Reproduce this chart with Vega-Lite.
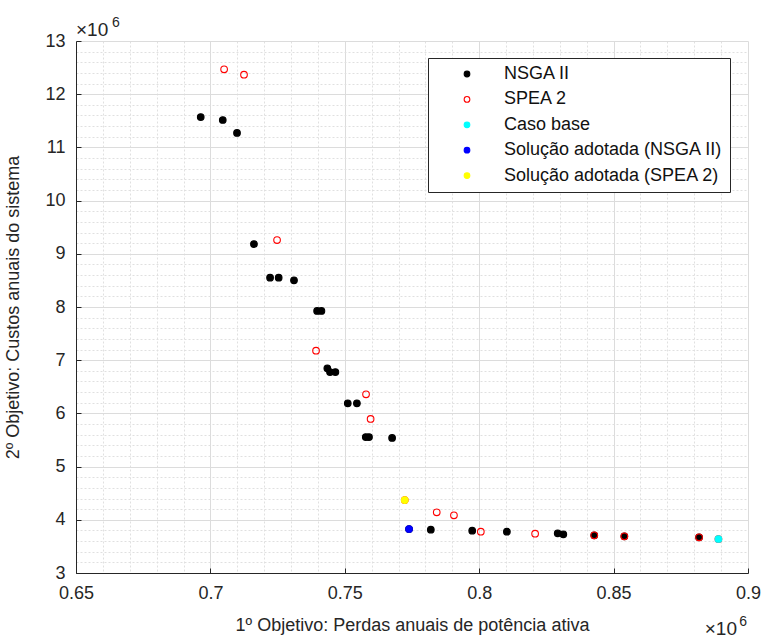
{
  "$schema": "https://vega.github.io/schema/vega-lite/v6.json",
  "width": 672,
  "height": 532,
  "autosize": {"type": "none"},
  "padding": {"left": 76, "top": 41, "right": 17, "bottom": 65},
  "background": "white",
  "config": {
    "view": {"stroke": null},
    "font": "Liberation Sans",
    "axis": {
      "domainColor": "#262626",
      "domainWidth": 1,
      "tickColor": "#262626",
      "labelColor": "#262626",
      "labelFont": "Liberation Sans",
      "labelFontSize": 18,
      "titleFont": "Liberation Sans",
      "titleFontSize": 18,
      "titleFontWeight": "normal",
      "titleColor": "#262626",
      "labelOverlap": false,
      "labelFlush": false
    },
    "legend": {
      "orient": "none",
      "legendX": 352,
      "legendY": 17,
      "strokeColor": "#262626",
      "fillColor": "white",
      "padding": 7,
      "labelFont": "Liberation Sans",
      "labelFontSize": 18,
      "labelColor": "#111111",
      "labelLimit": 0,
      "symbolSize": 32,
      "symbolStrokeWidth": 1.1,
      "symbolType": "circle",
      "rowPadding": 7.4,
      "symbolOffset": 23,
      "labelOffset": 28
    }
  },
  "resolve": {"axis": {"x": "independent", "y": "independent"}},
  "layer": [
    {
      "data": {
        "values": [
          {"perdas": 0.6964, "custos": 11.571, "serie": "NSGA II"},
          {"perdas": 0.7046, "custos": 11.515, "serie": "NSGA II"},
          {"perdas": 0.7099, "custos": 11.271, "serie": "NSGA II"},
          {"perdas": 0.7162, "custos": 9.184, "serie": "NSGA II"},
          {"perdas": 0.7222, "custos": 8.551, "serie": "NSGA II"},
          {"perdas": 0.7254, "custos": 8.551, "serie": "NSGA II"},
          {"perdas": 0.7311, "custos": 8.502, "serie": "NSGA II"},
          {"perdas": 0.7397, "custos": 7.925, "serie": "NSGA II"},
          {"perdas": 0.7413, "custos": 7.925, "serie": "NSGA II"},
          {"perdas": 0.7435, "custos": 6.848, "serie": "NSGA II"},
          {"perdas": 0.7445, "custos": 6.778, "serie": "NSGA II"},
          {"perdas": 0.7465, "custos": 6.778, "serie": "NSGA II"},
          {"perdas": 0.7511, "custos": 6.19, "serie": "NSGA II"},
          {"perdas": 0.7545, "custos": 6.19, "serie": "NSGA II"},
          {"perdas": 0.7578, "custos": 5.556, "serie": "NSGA II"},
          {"perdas": 0.759, "custos": 5.556, "serie": "NSGA II"},
          {"perdas": 0.7676, "custos": 5.538, "serie": "NSGA II"},
          {"perdas": 0.7739, "custos": 3.827, "serie": "NSGA II"},
          {"perdas": 0.782, "custos": 3.814, "serie": "NSGA II"},
          {"perdas": 0.7974, "custos": 3.795, "serie": "NSGA II"},
          {"perdas": 0.8103, "custos": 3.776, "serie": "NSGA II"},
          {"perdas": 0.8292, "custos": 3.746, "serie": "NSGA II"},
          {"perdas": 0.8313, "custos": 3.727, "serie": "NSGA II"},
          {"perdas": 0.8428, "custos": 3.709, "serie": "NSGA II"},
          {"perdas": 0.854, "custos": 3.69, "serie": "NSGA II"},
          {"perdas": 0.8818, "custos": 3.671, "serie": "NSGA II"},
          {"perdas": 0.7051, "custos": 12.468, "serie": "SPEA 2"},
          {"perdas": 0.7125, "custos": 12.367, "serie": "SPEA 2"},
          {"perdas": 0.7248, "custos": 9.259, "serie": "SPEA 2"},
          {"perdas": 0.7393, "custos": 7.179, "serie": "SPEA 2"},
          {"perdas": 0.7579, "custos": 6.359, "serie": "SPEA 2"},
          {"perdas": 0.7596, "custos": 5.895, "serie": "SPEA 2"},
          {"perdas": 0.7723, "custos": 4.372, "serie": "SPEA 2"},
          {"perdas": 0.7842, "custos": 4.141, "serie": "SPEA 2"},
          {"perdas": 0.7906, "custos": 4.085, "serie": "SPEA 2"},
          {"perdas": 0.8006, "custos": 3.776, "serie": "SPEA 2"},
          {"perdas": 0.8208, "custos": 3.739, "serie": "SPEA 2"},
          {"perdas": 0.8428, "custos": 3.709, "serie": "SPEA 2"},
          {"perdas": 0.854, "custos": 3.69, "serie": "SPEA 2"},
          {"perdas": 0.8818, "custos": 3.671, "serie": "SPEA 2"},
          {"perdas": 0.889, "custos": 3.639, "serie": "SPEA 2"},
          {"perdas": 0.889, "custos": 3.639, "serie": "Caso base"},
          {"perdas": 0.7739, "custos": 3.827, "serie": "Solução adotada (NSGA II)"},
          {"perdas": 0.7723, "custos": 4.372, "serie": "Solução adotada (SPEA 2)"}
        ]
      },
      "mark": {"type": "point", "filled": false, "size": 44, "strokeWidth": 1.1, "opacity": 1},
      "encoding": {
        "x": {
          "field": "perdas",
          "type": "quantitative",
          "scale": {"domain": [0.65, 0.9], "nice": false, "zero": false},
          "axis": {
            "orient": "bottom",
            "title": "1º Objetivo: Perdas anuais de potência ativa",
            "values": [0.65, 0.66, 0.67, 0.68, 0.69, 0.7, 0.71, 0.72, 0.73, 0.74, 0.75, 0.76, 0.77, 0.78, 0.79, 0.8, 0.81, 0.82, 0.83, 0.84, 0.85, 0.86, 0.87, 0.88, 0.89, 0.9],
            "labelExpr": "abs(datum.value*20 - round(datum.value*20)) < 0.001 ? format(datum.value, '~g') : ''",
            "grid": true,
            "gridDash": {"condition": {"test": "abs(datum.value*20 - round(datum.value*20)) < 0.001", "value": []}, "value": [2, 2]},
            "gridColor": {"condition": {"test": "abs(datum.value*20 - round(datum.value*20)) < 0.001", "value": "#dcdcdc"}, "value": "#e0e0e0"},
            "tickOpacity": {"condition": {"test": "abs(datum.value*20 - round(datum.value*20)) < 0.001", "value": 1}, "value": 0},
            "tickSize": -5,
            "labelPadding": 16,
            "titlePadding": 14
          }
        },
        "y": {
          "field": "custos",
          "type": "quantitative",
          "scale": {"domain": [3, 13], "nice": false, "zero": false},
          "axis": {
            "orient": "left",
            "title": "2º Objetivo: Custos anuais do sistema",
            "values": [3, 3.2, 3.4, 3.6, 3.8, 4, 4.2, 4.4, 4.6, 4.8, 5, 5.2, 5.4, 5.6, 5.8, 6, 6.2, 6.4, 6.6, 6.8, 7, 7.2, 7.4, 7.6, 7.8, 8, 8.2, 8.4, 8.6, 8.8, 9, 9.2, 9.4, 9.6, 9.8, 10, 10.2, 10.4, 10.6, 10.8, 11, 11.2, 11.4, 11.6, 11.8, 12, 12.2, 12.4, 12.6, 12.8, 13],
            "labelExpr": "abs(datum.value - round(datum.value)) < 0.001 ? format(datum.value, 'd') : ''",
            "grid": true,
            "gridDash": {"condition": {"test": "abs(datum.value - round(datum.value)) < 0.001", "value": []}, "value": [2, 2]},
            "gridColor": {"condition": {"test": "abs(datum.value - round(datum.value)) < 0.001", "value": "#dcdcdc"}, "value": "#e0e0e0"},
            "tickOpacity": {"condition": {"test": "abs(datum.value - round(datum.value)) < 0.001", "value": 1}, "value": 0},
            "tickSize": -5,
            "labelPadding": 16,
            "titlePadding": 22
          }
        },
        "fill": {
          "field": "serie",
          "type": "nominal",
          "scale": {
            "domain": ["NSGA II", "SPEA 2", "Caso base", "Solução adotada (NSGA II)", "Solução adotada (SPEA 2)"],
            "range": ["#000000", "transparent", "#00ffff", "#0000ff", "#ffff00"]
          },
          "legend": {"title": null}
        },
        "stroke": {
          "field": "serie",
          "type": "nominal",
          "scale": {
            "domain": ["NSGA II", "SPEA 2", "Caso base", "Solução adotada (NSGA II)", "Solução adotada (SPEA 2)"],
            "range": ["#000000", "#ff0000", "#00ffff", "#0000ff", "#ffff00"]
          },
          "legend": {"title": null}
        }
      }
    },
    {
      "data": {"values": [{"rotulo": "×10"}]},
      "mark": {"type": "text", "align": "left", "baseline": "alphabetic", "dy": -5, "font": "Liberation Sans", "fontSize": 19, "color": "#262626"},
      "encoding": {
        "x": {"datum": 0.65, "type": "quantitative", "axis": null},
        "y": {"datum": 13, "type": "quantitative", "axis": null},
        "text": {"field": "rotulo"}
      }
    },
    {
      "data": {"values": [{"rotulo": "6"}]},
      "mark": {"type": "text", "align": "left", "baseline": "alphabetic", "dx": 36, "dy": -14, "font": "Liberation Sans", "fontSize": 14, "color": "#262626"},
      "encoding": {
        "x": {"datum": 0.65, "type": "quantitative", "axis": null},
        "y": {"datum": 13, "type": "quantitative", "axis": null},
        "text": {"field": "rotulo"}
      }
    },
    {
      "data": {"values": [{"rotulo": "×10"}]},
      "mark": {"type": "text", "align": "right", "baseline": "alphabetic", "dx": -11, "dy": 62, "font": "Liberation Sans", "fontSize": 19, "color": "#262626"},
      "encoding": {
        "x": {"datum": 0.9, "type": "quantitative", "axis": null},
        "y": {"datum": 3, "type": "quantitative", "axis": null},
        "text": {"field": "rotulo"}
      }
    },
    {
      "data": {"values": [{"rotulo": "6"}]},
      "mark": {"type": "text", "align": "right", "baseline": "alphabetic", "dx": -1, "dy": 53, "font": "Liberation Sans", "fontSize": 14, "color": "#262626"},
      "encoding": {
        "x": {"datum": 0.9, "type": "quantitative", "axis": null},
        "y": {"datum": 3, "type": "quantitative", "axis": null},
        "text": {"field": "rotulo"}
      }
    }
  ]
}
